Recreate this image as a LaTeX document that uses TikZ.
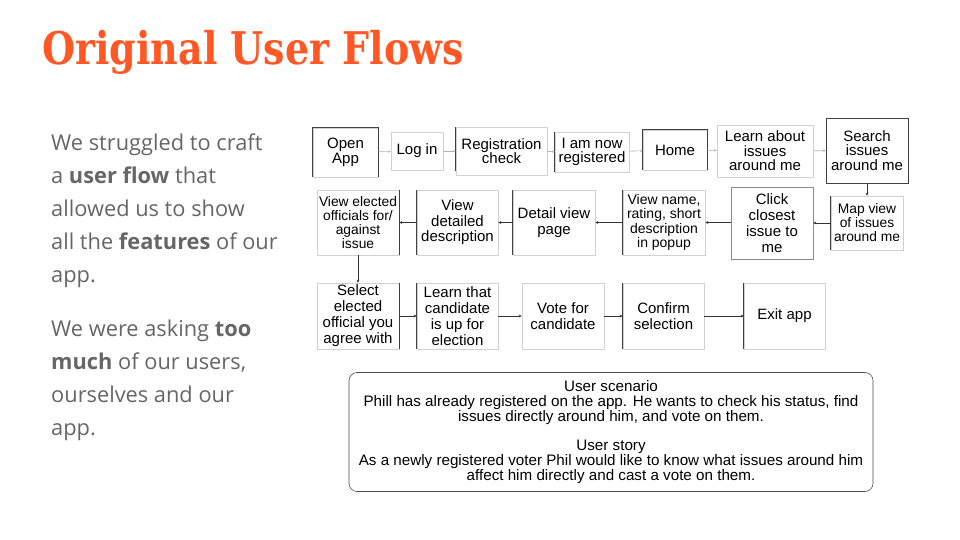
\documentclass[tikz,border=0pt]{standalone}
\usepackage{fontspec}
\usepackage{graphicx}
\setmainfont{Liberation Sans}
\newfontfamily\bodyfont{Open Sans}
\newfontfamily\titlefont{DejaVu Serif}
\usetikzlibrary{arrows.meta}
\definecolor{titleorange}{RGB}{255,88,36}
\definecolor{bodygray}{RGB}{102,102,102}
\tikzset{
  flowbox/.style={draw=black!18, line width=0.6pt, inner sep=0pt, align=center, text=black},
  edgedark/.style={draw=black!75, line width=0.7pt},
  linkfaint/.style={draw=black!30, line width=0.6pt, -{Stealth[length=2.5pt,width=2.5pt]}},
  linkdark/.style={draw=black!80, line width=0.6pt, -{Stealth[length=3pt,width=3pt]}},
  fs14/.style={font=\fontsize{15}{14.5}\selectfont},
  fs14b/.style={font=\fontsize{15}{16}\selectfont},
  fs12/.style={font=\fontsize{13.8}{14}\selectfont},
}
\begin{document}
\begin{tikzpicture}[x=1pt,y=-1pt]
\useasboundingbox[fill=white] (0,0) rectangle (960,540);

% title
\node[anchor=base west, text=titleorange, font=\titlefont\bfseries\fontsize{45}{45}\selectfont, inner sep=0pt] (title) at (42,65) {\scalebox{0.845}[1]{Original User Flows}};

% body text
\node[anchor=north west, text=bodygray, align=left, inner sep=0pt,
      font=\bodyfont\fontsize{21.8}{33}\selectfont] (body1) at (51,134)
  {We struggled to craft\\a \textbf{user flow} that\\allowed us to show\\all the \textbf{features} of our\\app.};
\node[anchor=north west, text=bodygray, align=left, inner sep=0pt,
      font=\bodyfont\fontsize{21.8}{33}\selectfont] (body2) at (51,320)
  {We were asking \textbf{too}\\\textbf{much} of our users,\\ourselves and our\\app.};

% row 1
\node[flowbox, fs14, minimum width=65, minimum height=49] (o) at (345.5,152.5) {Open\\App};
\node[flowbox, fs14, minimum width=52, minimum height=38] (l) at (417,151) {Log in};
\node[flowbox, fs14, minimum width=91, minimum height=48] (r) at (501.5,151) {Registration\\check};
\node[flowbox, fs14, minimum width=74, minimum height=40] (i) at (592,152) {I am now\\registered};
\node[flowbox, fs14, minimum width=64, minimum height=40] (h) at (675,150) {Home};
\node[flowbox, fs14, minimum width=96, minimum height=52] (a) at (765,151) {Learn about\\issues\\around me};
\node[flowbox, fs14, draw=black!75, minimum width=82, minimum height=65] (s) at (867,150.5) {Search\\issues\\around me};

% row 2
\node[flowbox, fs12, minimum width=82, minimum height=65] (v) at (358,222.5) {View elected\\officials for/\\against\\issue};
\node[flowbox, font=\fontsize{15}{15.5}\selectfont, minimum width=81, minimum height=65] (d) at (457.5,222.5) {View\\detailed\\description};
\node[flowbox, fs14b, minimum width=82, minimum height=65] (p) at (554,222.5) {Detail view\\page};
\node[flowbox, font=\fontsize{14}{14.5}\selectfont, minimum width=82, minimum height=65] (n) at (664,222.5) {View name,\\rating, short\\description\\in popup};
\node[flowbox, fs14b, draw=black!45, minimum width=82, minimum height=72] (c) at (772,223) {Click\\closest\\issue to\\me};
\node[flowbox, fs12, minimum width=72, minimum height=54] (m) at (867,223) {Map view\\of issues\\around me};

% row 3
\node[flowbox, fs14b, minimum width=82, minimum height=66] (e) at (358,316) {Select\\elected\\official you\\agree with};
\node[flowbox, fs14b, minimum width=81, minimum height=66] (t) at (457.5,316) {Learn that\\candidate\\is up for\\election};
\node[flowbox, fs14b, minimum width=82, minimum height=66] (vc) at (563,316) {Vote for\\candidate};
\node[flowbox, fs14b, minimum width=81, minimum height=66] (cs) at (663.5,316) {Confirm\\selection};
\node[flowbox, fs14b, minimum width=81, minimum height=66] (x) at (784.5,316) {Exit app};

% darker sketch edges
\draw[edgedark] (o.south west) -- (o.north west) -- (o.north east) -- (o.south east);
\draw[edgedark] ([yshift=4pt]r.south west) -- (r.north west);
\draw[edgedark] (i.south west) -- (i.north west);
\draw[edgedark] (h.south west) -- (h.north west) -- (h.north east) -- (h.south east);
\draw[edgedark] (v.south east) -- (v.north east);
\draw[edgedark] (d.south west) -- (d.north west);
\draw[edgedark] (p.south west) -- (p.north west);
\draw[edgedark] (n.south west) -- (n.north west);
\draw[edgedark] (m.south west) -- (m.north west);
\draw[edgedark] (e.south east) -- (e.north east);
\draw[edgedark] (t.south west) -- (t.north west);
\draw[edgedark] (cs.south west) -- (cs.north west);
\draw[edgedark] (x.south west) -- (x.north west);

% connectors row 1
\draw[linkfaint] (o) -- (l);
\draw[linkfaint] (l) -- (r);
\draw[linkfaint] (r) -- (i);
\draw[linkfaint] (i) -- (h);
\draw[linkfaint] (h) -- (a);
\draw[linkfaint] (a) -- (s);
\draw[linkdark] (s) -- (m);

% connectors row 2
\draw[linkdark] (m.west) -- (c.east |- m.west);
\draw[linkdark] (c.west |- n.east) -- (n.east);
\draw[linkdark] (n) -- (p);
\draw[linkdark] (p) -- (d);
\draw[linkdark] (d) -- (v);
\draw[linkdark] (v) -- (e);

% connectors row 3
\draw[linkdark] (e) -- (t);
\draw[linkdark] (t) -- (vc);
\draw[linkdark] (vc) -- (cs);
\draw[linkdark] (cs) -- (x);

% scenario box
\node[draw=black!70, line width=0.6pt, rounded corners=8pt, minimum width=524, minimum height=119,
      inner sep=0pt, align=center, font=\fontsize{15.2}{15}\selectfont] (story) at (611,432)
  {User scenario\\Phill has already registered on the app. He wants to check his status, find\\issues directly around him, and vote on them.\\[14pt]User story\\As a newly registered voter Phil would like to know what issues around him\\affect him directly and cast a vote on them.};
\end{tikzpicture}
\end{document}
